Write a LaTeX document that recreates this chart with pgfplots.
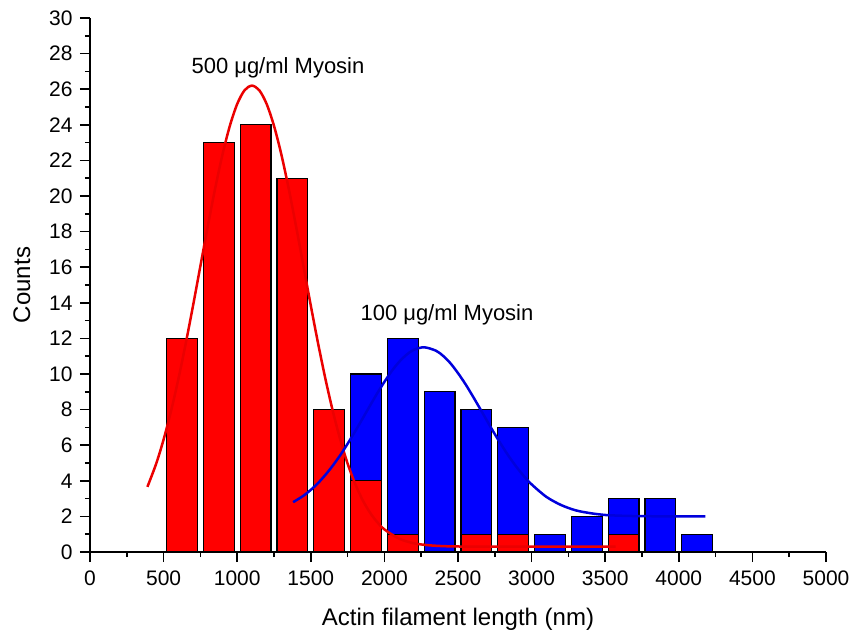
\documentclass[border=0pt]{standalone}
\usepackage{pgfplots}
\pgfplotsset{compat=1.18}
\usepackage{fontspec}
\setmainfont{Liberation Sans}
\begin{document}
\begin{tikzpicture}
\begin{axis}[
  scale only axis, width=736pt, height=534pt,
  xmin=0, xmax=5000, ymin=0, ymax=30,
  axis x line=bottom, axis y line=left,
  axis line style={-, line width=1.8pt},
  xtick distance=500, ytick distance=2,
  minor x tick num=1, minor y tick num=1,
  tick align=outside,
  major tick length=10pt, minor tick length=5pt,
  every tick/.style={black, line width=1.6pt},
  /pgf/number format/assume math mode=true,
  /pgf/number format/set thousands separator={},
  tick label style={font=\fontsize{21}{23}\selectfont},
  xticklabel style={yshift=-5pt},
  yticklabel style={xshift=-4pt},
  xlabel={Actin filament length (nm)},
  ylabel={Counts},
  xlabel style={font=\fontsize{24}{27}\selectfont, yshift=-16pt},
  ylabel style={font=\fontsize{24}{27}\selectfont, yshift=12pt},
  clip=false,
]
% blue bars (100 ug/ml)
\addplot[ybar, bar width=210, fill={rgb,255:red,0;green,0;blue,255}, draw=black, line width=1.2pt] coordinates {
 (1875,10) (2125,12) (2375,9) (2625,8) (2875,7) (3125,1) (3375,2) (3625,3) (3875,3) (4125,1)};
% red bars (500 ug/ml)
\addplot[ybar, bar width=210, fill={rgb,255:red,255;green,0;blue,0}, draw=black, line width=1.2pt] coordinates {
 (625,12) (875,23) (1125,24) (1375,21) (1625,8) (1875,4) (2125,1) (2625,1) (2875,1) (3625,1)};
% red fit
\addplot[smooth, no marks, color={rgb,255:red,235;green,0;blue,0}, line width=2.5pt] coordinates {
 (390,3.66) (450,4.97) (500,6.32) (550,7.90) (600,9.70) (650,11.70) (700,13.84) (750,16.07)
 (800,18.29) (850,20.41) (900,22.33) (950,23.94) (1000,25.17) (1050,25.94) (1100,26.2)
 (1150,25.94) (1200,25.17) (1250,23.94) (1300,22.33) (1350,20.41) (1400,18.29) (1450,16.07)
 (1500,13.84) (1550,11.70) (1600,9.70) (1650,7.90) (1700,6.32) (1750,4.97) (1800,3.86)
 (1850,2.95) (1900,2.24) (1950,1.69) (2000,1.27) (2100,0.75) (2200,0.49) (2300,0.38)
 (2400,0.33) (2500,0.31) (2700,0.3) (3000,0.3) (3300,0.3) (3570,0.3)};
% blue fit
\addplot[smooth, no marks, color={rgb,255:red,0;green,0;blue,220}, line width=2.5pt] coordinates {
 (1380,2.80) (1450,3.16) (1500,3.49) (1550,3.88) (1600,4.34) (1650,4.86) (1700,5.44)
 (1750,6.08) (1800,6.76) (1850,7.47) (1900,8.19) (1950,8.90) (2000,9.56) (2050,10.17)
 (2100,10.68) (2150,11.08) (2200,11.36) (2270,11.5) (2350,11.31) (2400,11.01) (2450,10.59)
 (2500,10.05) (2550,9.44) (2600,8.76) (2650,8.05) (2700,7.33) (2750,6.62) (2800,5.95)
 (2850,5.32) (2900,4.75) (2950,4.24) (3000,3.80) (3100,3.10) (3200,2.64) (3300,2.34)
 (3400,2.18) (3500,2.08) (3600,2.04) (3700,2.02) (3800,2.01) (3950,2.0) (4180,2.0)};
\node[font=\fontsize{22}{24}\selectfont] at (axis cs:1277,27.2) {500 μg/ml Myosin};
\node[font=\fontsize{22}{24}\selectfont] at (axis cs:2425,13.3) {100 μg/ml Myosin};
\end{axis}
\pgfresetboundingbox
\path (current axis.south west) ++(-90pt,-83pt) rectangle ++(858pt,635pt);
\end{tikzpicture}
\end{document}
